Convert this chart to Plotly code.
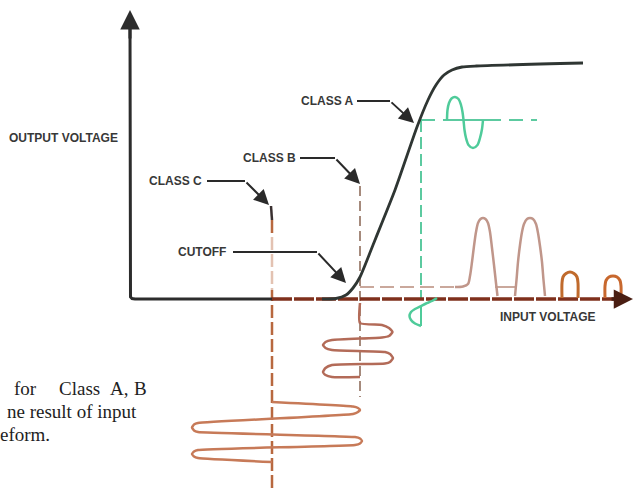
import plotly.graph_objects as go

W, H = 633, 488

# ---------------- data (diagram units, y grows downward) ----------------
# axes
y_axis_x = [130, 130, 130.5, 132, 135, 272]
y_axis_y = [24, 294, 297, 298.5, 299, 299]
x_axis_over_x = [272, 626]
x_axis_over_y = [299, 299]

# transfer characteristic
tc_x = [322, 336, 346, 353, 360, 375, 395, 417, 428, 436, 444, 452, 462, 476, 583]
tc_y = [299, 298.5, 295, 288, 277, 240, 190, 127, 100, 85, 75, 70, 67, 66, 63]

# class A
a_vert_x, a_vert_y = [421, 421], [120, 299]
a_hor_x, a_hor_y = [421, 537], [120, 120]
a_axis_x, a_axis_y = [443, 488], [120, 120]
a_out_x = [447, 447.5, 449, 451.5, 455, 458.5, 461, 462.5, 463.5,
           464.5, 466, 468.5, 473, 477.5, 480, 482, 483]
a_out_y = [120, 110, 103, 98.5, 97, 99, 105, 112, 120,
           130, 138, 145, 148, 145, 138, 129, 120]
a_in_x = [437, 432, 426, 421, 415, 411, 409.5, 411, 415, 421]
a_in_y = [298, 301, 303.5, 306, 309, 312, 316, 320, 323.5, 326]
a_in_axis_x, a_in_axis_y = [421, 421], [306, 326]

# class B
b_vert_x, b_vert_y = [360, 360], [186, 397]
b_hor1_x, b_hor1_y = [360, 456], [287, 287]
b_hor2_x, b_hor2_y = [495, 516], [287, 287]
b_in_x = [360, 360, 382, 389, 392.5, 389, 382, 332, 325.5, 323, 325.5, 332,
          385, 390, 393, 390, 385, 332, 325.5, 323, 325.5, 332, 360]
b_in_y = [303, 323, 325, 328, 332, 336, 337.5, 340, 342, 345, 348, 350,
          352, 354, 358, 362, 363.5, 365, 368, 372, 375, 377, 377]
b_p1_x = [455, 463, 468, 470, 472, 474, 476, 478, 480.5, 483, 485.5, 488,
          490, 492, 494, 496, 497.5]
b_p1_y = [287, 286.5, 284, 276, 262, 246, 232, 223, 219, 218, 219, 223,
          232, 248, 265, 283, 296]
b_p2_x = [515, 516.5, 518, 520, 522, 524, 527, 530, 533, 536, 538, 540, 542, 543.5, 545]
b_p2_y = [296, 280, 262, 245, 232, 224, 219, 218, 219, 224, 233, 246, 262, 280, 296]

# class C
c_vert_x, c_vert_y = [272, 272], [220, 488]
c_stub_x, c_stub_y = [271, 272], [206, 220]
c_in_x = [272, 353, 358, 360, 358, 353, 198, 194, 192, 194, 198,
          355, 360, 362, 360, 355, 198, 194, 192, 194, 198, 272]
c_in_y = [402, 406.5, 408, 410, 412, 414, 423, 424.5, 427.5, 430.5, 432,
          437, 438.5, 441, 443.5, 445, 450, 451.5, 454, 456.5, 458, 462]
c_p1_x = [562, 562, 563, 566, 570, 574, 577, 578, 578]
c_p1_y = [298, 283, 277, 273.5, 272, 273.5, 277, 283, 298]
c_p2_x = [605, 605, 606, 609, 613, 617, 620, 621, 621]
c_p2_y = [298, 286, 280.5, 277, 276, 277, 280.5, 286, 298]

# haze box near cutoff
haze_x = [232, 345, 345, 232, 232]
haze_y = [237, 237, 290, 290, 237]

# labels: (text, x, y)
labels = [("CLASS A", 327, 101), ("CLASS B", 269, 158),
          ("CLASS C", 175, 181), ("CUTOFF", 202, 252)]
leaders = [  # horizontal leader line, then arrow to tip
    ([357, 390], [101, 101], (414, 123)),
    ([300, 335], [158, 158], (360, 184)),
    ([207, 245], [181, 181], (269, 205)),
    ([233, 317], [252, 252], (346, 283)),
]
axis_titles = [("OUTPUT VOLTAGE", 63, 138), ("INPUT VOLTAGE", 548, 317)]

caption_words = [("for", 12, 388), ("Class", 57, 388), ("A,", 108, 388), ("B", 132, 388)]
caption_right = [("ne result of input", 139, 411), ("eform.", 52, 434)]

# ---------------- figure ----------------
fig = go.Figure()


def line(x, y, color, width, dash="solid", shape="linear", smooth=None):
    ln = dict(color=color, width=width, dash=dash, shape=shape)
    if smooth is not None:
        ln["smoothing"] = smooth
    fig.add_trace(go.Scatter(x=x, y=y, mode="lines", line=ln,
                             hoverinfo="skip", showlegend=False))


# class C vertical dashed + haze over it
line(c_vert_x, c_vert_y, "#b8683f", 2.5, dash="13px,4px")
fig.add_trace(go.Scatter(x=haze_x, y=haze_y, mode="lines", fill="toself",
                         fillcolor="rgba(255,255,255,0.6)", line=dict(width=0),
                         hoverinfo="skip", showlegend=False))
line(c_stub_x, c_stub_y, "#3a3030", 2.5)

# class B dashed guides
line(b_vert_x, b_vert_y, "#a58a7c", 2, dash="10px,5px")
line(b_hor1_x, b_hor1_y, "#caa89c", 2, dash="14px,6px")
line(b_hor2_x, b_hor2_y, "#caa89c", 2)

# class A green guides
line(a_vert_x, a_vert_y, "#5ccaa0", 2, dash="12px,5px")
line(a_hor_x, a_hor_y, "#5ccaa0", 2, dash="14px,8px")
line(a_axis_x, a_axis_y, "#5ccaa0", 2)

# axes
line(y_axis_x, y_axis_y, "#2c2c2c", 3)
line(x_axis_over_x, x_axis_over_y, "#7f301c", 3.5, dash="20px,2px")

# transfer characteristic
line(tc_x, tc_y, "#2f3633", 2.8, shape="spline", smooth=0.6)

# waveforms
line(a_out_x, a_out_y, "#4fcb9a", 2.5, shape="spline", smooth=0.8)
line(a_in_x, a_in_y, "#4fcb9a", 2.5, shape="spline", smooth=0.8)
line(a_in_axis_x, a_in_axis_y, "#4fcb9a", 2)
line(b_in_x, b_in_y, "#b36b58", 2.5, shape="spline", smooth=0.5)
line(b_p1_x, b_p1_y, "#c0968a", 2.5, shape="spline", smooth=0.8)
line(b_p2_x, b_p2_y, "#c0968a", 2.5, shape="spline", smooth=0.8)
line(c_in_x, c_in_y, "#c77a58", 2.5, shape="spline", smooth=0.4)
line(c_p1_x, c_p1_y, "#c06a2c", 3, shape="spline", smooth=0.8)
line(c_p2_x, c_p2_y, "#c8682e", 3, shape="spline", smooth=0.8)

annotations = []
# leader lines + arrows
for lx, ly, tip in leaders:
    line(lx, ly, "#2a2a2a", 2)
    annotations.append(dict(x=tip[0], y=tip[1], ax=lx[-1], ay=ly[-1],
                            xref="x", yref="y", axref="x", ayref="y",
                            text="", showarrow=True, arrowhead=2,
                            arrowsize=1.5, arrowwidth=2, arrowcolor="#2a2a2a"))
# axis arrows
annotations.append(dict(x=130, y=10, ax=130, ay=40, xref="x", yref="y",
                        axref="x", ayref="y", text="", showarrow=True,
                        arrowhead=2, arrowsize=1.3, arrowwidth=3, arrowcolor="#2c2c2c"))
annotations.append(dict(x=633, y=299, ax=610, ay=299, xref="x", yref="y",
                        axref="x", ayref="y", text="", showarrow=True,
                        arrowhead=2, arrowsize=1.1, arrowwidth=3.5, arrowcolor="#4a1e12"))

lab_font = dict(family="Liberation Sans, Arial, sans-serif", size=12, color="#383838")
for t, x, y in labels + axis_titles:
    annotations.append(dict(x=x, y=y, xref="x", yref="y", text="<b>%s</b>" % t,
                            showarrow=False, font=lab_font,
                            xanchor="center", yanchor="middle"))

cap_font = dict(family="Liberation Serif, Times New Roman, serif", size=19, color="#1e1e1e")
for t, x, y in caption_words:
    annotations.append(dict(x=x, y=y, xref="x", yref="y", text=t, showarrow=False,
                            font=cap_font, xanchor="left", yanchor="middle"))
for t, x, y in caption_right:
    annotations.append(dict(x=x, y=y, xref="x", yref="y", text=t, showarrow=False,
                            font=cap_font, xanchor="right", yanchor="middle"))

fig.update_layout(
    width=W, height=H,
    margin=dict(l=0, r=0, t=0, b=0),
    paper_bgcolor="white", plot_bgcolor="white",
    xaxis=dict(range=[0, W], visible=False, fixedrange=True),
    yaxis=dict(range=[H, 0], visible=False, fixedrange=True),
    annotations=annotations,
    showlegend=False,
)

fig.write_html(
    "out.html",
    config={"displayModeBar": False},
    post_script="document.body.style.margin='0';document.body.style.overflow='hidden';",
)
